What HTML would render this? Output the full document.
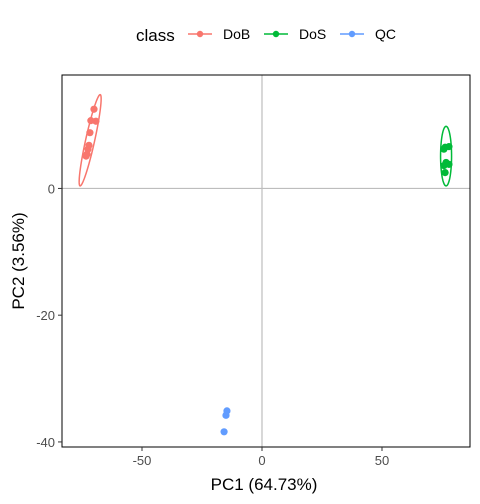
<!DOCTYPE html>
<html><head><meta charset="utf-8">
<style>
body{margin:0;background:#fff;}
svg{display:block;font-family:"Liberation Sans",sans-serif;}
</style></head>
<body>
<svg id="chart" width="480" height="504" viewBox="0 0 480 504">
  <rect width="480" height="504" fill="#fff"/>
  <g>
    <text x="136" y="41" font-size="17" fill="#000">class</text>
    <g>
      <line x1="188" y1="34" x2="212" y2="34" stroke="#F8766D" stroke-width="1.5"/>
      <circle cx="200" cy="34" r="3.2" fill="#F8766D"/>
      <text x="223" y="39" font-size="14">DoB</text>
    </g>
    <g>
      <line x1="264" y1="34" x2="288" y2="34" stroke="#00BA38" stroke-width="1.5"/>
      <circle cx="276" cy="34" r="3.2" fill="#00BA38"/>
      <text x="299" y="39" font-size="14">DoS</text>
    </g>
    <g>
      <line x1="340" y1="34" x2="364" y2="34" stroke="#619CFF" stroke-width="1.5"/>
      <circle cx="352" cy="34" r="3.2" fill="#619CFF"/>
      <text x="375" y="39" font-size="14">QC</text>
    </g>
  </g>
  <g id="plot"></g>
  <text x="264" y="490" font-size="17" text-anchor="middle">PC1 (64.73%)</text>
  <text transform="translate(24,261) rotate(-90)" font-size="17" text-anchor="middle">PC2 (3.56%)</text>
</svg>
<script>
const xTicks=[-50,0,50];
const yTicks=[0,-20,-40];
const dobX=[-70,-69.2,-71.3,-71.7,-72.1,-72.5,-72.9,-73.3];
const dobY=[12.5,10.6,10.7,8.8,6.8,6.2,5.4,5.1];
const dosX=[76.3,77.9,75.8,76.7,77.9,75.8,76.3];
const dosY=[6.5,6.6,6.2,4.1,3.8,3.6,2.5];
const qcX=[-14.6,-15.0,-15.8];
const qcY=[-35.1,-35.8,-38.4];
const ellCx=[-71.6,76.7];
const ellCy=[7.6,5.1];
const ellMx=[4.2,0];
const ellMy=[7.2,4.7];

const L=62,R=470,T=75,B=447;
const xMin=-83.33,xMax=86.67,yMin=-40.8,yMax=17.9;
const sx=v=>L+(v-xMin)/(xMax-xMin)*(R-L);
const sy=v=>B-(v-yMin)/(yMax-yMin)*(B-T);
const NS="http://www.w3.org/2000/svg";
const g=document.getElementById('plot');
function mk(t,a,p){const e=document.createElementNS(NS,t);for(const k in a)e.setAttribute(k,a[k]);(p||g).appendChild(e);return e;}

const zx=mk('line',{x1:sx(0),x2:sx(0),y1:T,y2:B,stroke:'#bdbdbd','stroke-width':1.2});


const zy=mk('line',{x1:L,x2:R,y1:sy(0),y2:sy(0),stroke:'#bdbdbd','stroke-width':1.2});



const border=mk('rect',{x:L,y:T,width:R-L,height:B-T,fill:'none',stroke:'#000','stroke-width':1});



xTicks.forEach(v=>{
  mk('line',{x1:sx(v),x2:sx(v),y1:B,y2:B+4,stroke:'#333'});
  const t=mk('text',{x:sx(v),y:B+18,'font-size':13,fill:'#4d4d4d','text-anchor':'middle'});
  t.textContent=v;
  
  
});
yTicks.forEach(v=>{
  mk('line',{x1:L-4,x2:L,y1:sy(v),y2:sy(v),stroke:'#333'});
  const t=mk('text',{x:L-7,y:sy(v)+5,'font-size':13,fill:'#4d4d4d','text-anchor':'end'});
  t.textContent=v;
  
  
});

const cols=['#F8766D','#00BA38'];
const minorPx=[4.5,5.5];
for(let i=0;i<2;i++){
  const cx=sx(ellCx[i]),cy=sy(ellCy[i]);
  const ax=sx(ellCx[i]+ellMx[i])-cx, ay=sy(ellCy[i]+ellMy[i])-cy;
  const len=Math.hypot(ax,ay);
  const nx=-ay/len*minorPx[i], ny=ax/len*minorPx[i];
  let d='';
  for(let k=0;k<=72;k++){const t=k/72*2*Math.PI;const px=cx+Math.cos(t)*ax+Math.sin(t)*nx,py=cy+Math.cos(t)*ay+Math.sin(t)*ny;d+=(k?'L':'M')+px.toFixed(2)+','+py.toFixed(2);}
  const e=mk('path',{d:d+'Z',fill:'none',stroke:cols[i],'stroke-width':1.5});
  
  
}
function pts(X,Y,c,name){
  X.forEach((v,i)=>{
    const p=mk('circle',{cx:sx(v),cy:sy(Y[i]),r:3.6,fill:c});
    
    
  });
}
pts(dobX,dobY,'#F8766D','point-dob');
pts(dosX,dosY,'#00BA38','point-dos');
pts(qcX,qcY,'#619CFF','point-qc');
</script>
</body></html>
